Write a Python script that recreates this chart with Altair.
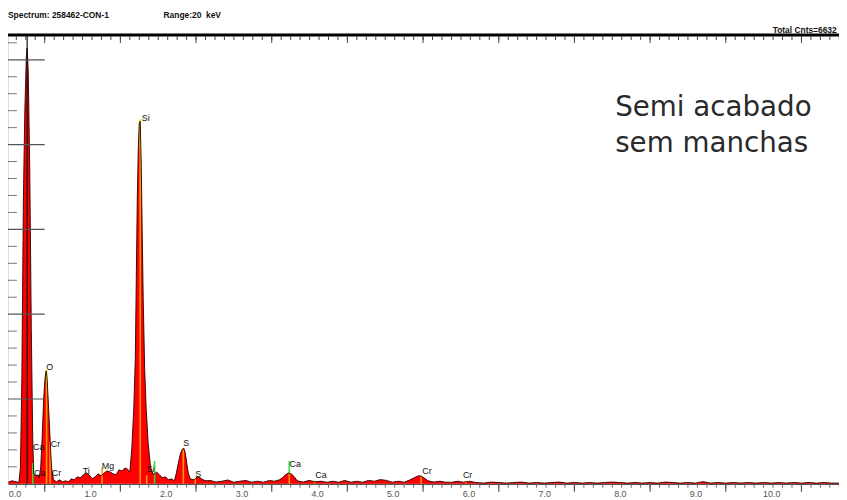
import altair as alt
import pandas as pd

# ---- spectrum (energy keV, counts) ----
energy = [-0.08, -0.033, 0.02, 0.059, 0.079, 0.098, 0.118, 0.137, 0.157, 0.168, 0.183, 0.203,
          0.223, 0.242, 0.255, 0.281, 0.308, 0.327, 0.347, 0.366, 0.386, 0.406, 0.419, 0.432,
          0.452, 0.471, 0.491, 0.517, 0.556, 0.596, 0.635, 0.674, 0.713, 0.753, 0.792, 0.831,
          0.87, 0.91, 0.949, 0.988, 1.027, 1.067, 1.106, 1.145, 1.185, 1.224, 1.263, 1.302,
          1.342, 1.381, 1.42, 1.459, 1.492, 1.525, 1.551, 1.577, 1.597, 1.61, 1.623, 1.636,
          1.649, 1.662, 1.675, 1.688, 1.702, 1.721, 1.741, 1.767, 1.8, 1.839, 1.878, 1.918,
          1.957, 1.996, 2.035, 2.075, 2.114, 2.14, 2.166, 2.192, 2.219, 2.238, 2.258, 2.277,
          2.297, 2.323, 2.376, 2.415, 2.454, 2.493, 2.533, 2.585, 2.664, 2.742, 2.821, 2.899,
          2.978, 3.056, 3.135, 3.213, 3.292, 3.37, 3.436, 3.501, 3.541, 3.58, 3.619, 3.658,
          3.698, 3.737, 3.815, 3.894, 3.973, 4.051, 4.13, 4.207, 4.286, 4.365, 4.444, 4.522,
          4.6, 4.68, 4.758, 4.836, 4.915, 4.993, 5.072, 5.15, 5.229, 5.281, 5.334, 5.373,
          5.412, 5.464, 5.543, 5.622, 5.7, 5.78, 5.857, 5.936, 6.014,
          6.1, 6.2, 6.3, 6.4, 6.5, 6.6, 6.7, 6.8, 6.9, 7.0, 7.1, 7.2, 7.3, 7.4, 7.5, 7.6,
          7.7, 7.8, 7.9, 8.0, 8.1, 8.2, 8.3, 8.4, 8.5, 8.6, 8.7, 8.8, 8.9, 9.0, 9.1, 9.2,
          9.3, 9.4, 9.5, 9.6, 9.7, 9.8, 9.9, 10.0, 10.1, 10.2, 10.3, 10.4, 10.5, 10.6, 10.7,
          10.8, 10.9]
counts = [20, 35, 25, 15, 187, 1238, 3340, 4392, 5034, 5139, 4859, 3691,
          1822, 537, 117, 93, 105, 70, 187, 537, 1004, 1261, 1332, 1238,
          888, 537, 187, 47, 23, 47, 23, 35, 23, 58, 47, 82,
          70, 105, 128, 105, 58, 82, 117, 93, 128, 152, 140, 117,
          105, 164, 152, 187, 175, 140, 420, 888, 1472, 2406, 3340, 3924,
          4252, 4275, 3807, 2990, 2172, 1355, 888, 478, 187, 105, 140, 105,
          70, 82, 47, 58, 35, 128, 245, 350, 409, 420, 362, 245,
          128, 58, 47, 82, 70, 47, 35, 40, 20, 30, 45, 18,
          30, 40, 18, 30, 18, 40, 30, 47, 70, 105, 128, 117,
          82, 35, 20, 40, 23, 30, 18, 30, 18, 40, 18, 30,
          18, 40, 30, 50, 40, 18, 30, 18, 47, 70, 93, 93,
          70, 35, 20, 30, 18, 18, 30, 18, 30,
          15, 8, 20, 15, 8, 15, 20, 8, 15, 8, 15, 20, 8, 15, 8, 15,
          8, 15, 20, 15, 8, 15, 8, 15, 8, 20, 15, 8, 15, 8, 25, 8,
          15, 8, 15, 8, 15, 8, 15, 8, 15, 8, 15, 8, 15, 8, 15,
          8, 8]

# ---- element marker lines (energy, low, high, colour) ----
mk_energy = [0.242, 0.425, 0.425, 0.471, 1.158, 1.662, 1.662, 1.747, 1.852, 2.232, 2.389,
             3.632, 3.632, 3.966, 5.373, 5.962]
mk_low = [0, 0, 1200, 0, 0, 0, 3950, 0, 0, 0, 0, 0, 130, 0, 0, 0]
mk_high = [245, 1200, 1345, 500, 190, 3950, 4300, 100, 270, 400, 60, 130, 270, 35, 90, 35]
mk_color = ["#33dd33", "#ff9900", "#e6e600", "#ff9900", "#ff9900", "#ff9900", "#e6e600",
            "#ff9900", "#33dd33", "#ff9900", "#ff9900", "#ff9900", "#33dd33", "#ff9900",
            "#ff9900", "#ff9900"]

# ---- peak labels ----
lb_text = ["O", "Si", "S", "Ca", "Ca", "Cr", "Cr", "Ca", "Cr", "Ca", "Cr", "Ti", "Mg", "Si", "S"]
lb_energy = [0.465, 1.736, 2.271, 3.711, 4.051, 5.452, 5.988, 0.321, 0.543, 0.334, 0.556,
             0.949, 1.237, 1.80, 2.428]
lb_count = [1378, 4310, 479, 234, 105, 152, 105, 432, 467, 128, 128, 152, 210, 175, 117]

# ---- axes ----
x_labels = [0, 1, 2, 3, 4, 5, 6, 7, 8, 9, 10]
x_major = [0.4 + k for k in range(11)]
x_minor = [round(0.025 + 0.125 * i, 3) for i in range(88)]
y_major = [1000, 2000, 3000, 4000, 5000]
y_minor = [v for v in range(200, 5300, 200) if v % 1000]
cursor_energy = [0.168]

W, H = 839, 453
xs = alt.Scale(domain=[-0.085, 10.896], nice=False, zero=False)
ys = alt.Scale(domain=[0, 5291], nice=False, zero=True)

spec = pd.DataFrame({"e": energy, "c": counts})
marks = pd.DataFrame({"e": mk_energy, "lo": mk_low, "hi": mk_high, "col": mk_color})
labels = pd.DataFrame({"e": lb_energy, "c": lb_count, "t": lb_text})

area = alt.Chart(spec).mark_area(color="#ff0000", opacity=1, interpolate="linear").encode(
    x=alt.X("e:Q", scale=xs, title=None,
            axis=alt.Axis(values=x_labels, format=".1f", ticks=False, grid=False,
                          domainColor="#555555", domainWidth=1.5, labelFontSize=9,
                          labelColor="#555555", labelPadding=6, labelFont="Liberation Sans")),
    y=alt.Y("c:Q", scale=ys, axis=None),
)
outline = alt.Chart(spec).mark_line(color="#2a0000", strokeWidth=0.9, interpolate="linear").encode(
    x=alt.X("e:Q", scale=xs, axis=None),
    y=alt.Y("c:Q", scale=ys, axis=None),
)
markers = alt.Chart(marks).mark_rule(strokeWidth=1.6).encode(
    x=alt.X("e:Q", scale=xs, axis=None),
    y=alt.Y("lo:Q", scale=ys, axis=None),
    y2="hi:Q",
    color=alt.Color("col:N", scale=None, legend=None),
)
cursor = alt.Chart(pd.DataFrame({"e": cursor_energy})).mark_rule(color="#111111", strokeWidth=1.2).encode(
    x=alt.X("e:Q", scale=xs, axis=None),
    y=alt.value(0), y2=alt.value(H),
)
ymaj = alt.Chart(pd.DataFrame({"v": y_major})).mark_rule(color="#555555", strokeWidth=1.2).encode(
    y=alt.Y("v:Q", scale=ys, axis=None), x=alt.value(0), x2=alt.value(37),
)
ymin = alt.Chart(pd.DataFrame({"v": y_minor})).mark_rule(color="#777777", strokeWidth=1).encode(
    y=alt.Y("v:Q", scale=ys, axis=None), x=alt.value(0), x2=alt.value(9),
)
topline = alt.Chart(pd.DataFrame({"v": [0]})).mark_rule(color="#000000", strokeWidth=3).encode(
    x=alt.value(0), x2=alt.value(W), y=alt.value(0),
)
top_minor = alt.Chart(pd.DataFrame({"e": x_minor})).mark_rule(color="#444444").encode(
    x=alt.X("e:Q", scale=xs, axis=None), y=alt.value(1), y2=alt.value(5),
)
top_major = alt.Chart(pd.DataFrame({"e": x_major})).mark_rule(color="#444444").encode(
    x=alt.X("e:Q", scale=xs, axis=None), y=alt.value(1), y2=alt.value(8),
)
bot_minor = alt.Chart(pd.DataFrame({"e": x_minor})).mark_rule(color="#666666").encode(
    x=alt.X("e:Q", scale=xs, axis=None), y=alt.value(H), y2=alt.value(H + 4),
)
bot_major = alt.Chart(pd.DataFrame({"e": x_major})).mark_rule(color="#555555", strokeWidth=1.2).encode(
    x=alt.X("e:Q", scale=xs, axis=None), y=alt.value(H), y2=alt.value(H + 8),
)
peak_labels = alt.Chart(labels).mark_text(fontSize=9, font="Liberation Sans", color="#111111",
                                          baseline="middle", align="center").encode(
    x=alt.X("e:Q", scale=xs, axis=None),
    y=alt.Y("c:Q", scale=ys, axis=None),
    text="t:N",
)

header = pd.DataFrame({"t": ["Spectrum: 258462-CON-1", "Range:20\u00a0\u00a0keV"], "px": [0, 157]})
head = alt.Chart(header).mark_text(fontSize=8.5, fontWeight="bold", font="Liberation Sans",
                                   align="left", baseline="middle", color="#111111").encode(
    x=alt.X("px:Q", scale=alt.Scale(domain=[0, W], range=[0, W]), axis=None),
    y=alt.value(-20), text="t:N",
)
total = alt.Chart(pd.DataFrame({"t": ["Total Cnts=6632"]})).mark_text(
    fontSize=8.5, fontWeight="bold", font="Liberation Sans", align="left", baseline="alphabetic",
    color="#111111").encode(x=alt.value(772), y=alt.value(-2), text="t:N")

note = alt.Chart(pd.DataFrame({"t": ["Semi acabado", "sem manchas"], "py": [74, 110]})).mark_text(
    fontSize=28, font="DejaVu Sans", align="left", baseline="middle", color="#2a2a2a").encode(
    x=alt.value(613),
    y=alt.Y("py:Q", scale=alt.Scale(domain=[0, H], range=[0, H]), axis=None),
    text="t:N",
)

chart = alt.layer(
    area, markers, outline, cursor, ymin, ymaj, topline, top_minor, top_major,
    bot_minor, bot_major, peak_labels, head, total, note
).resolve_scale(x="independent", y="independent").properties(
    width=W, height=H,
    autosize=alt.AutoSizeParams(type="none"),
    padding={"left": 0, "top": 25, "right": 0, "bottom": 14},
).configure_view(stroke=None).configure(background="#ffffff")

chart.save("out.html", embed_options={"renderer": "svg", "actions": False})
